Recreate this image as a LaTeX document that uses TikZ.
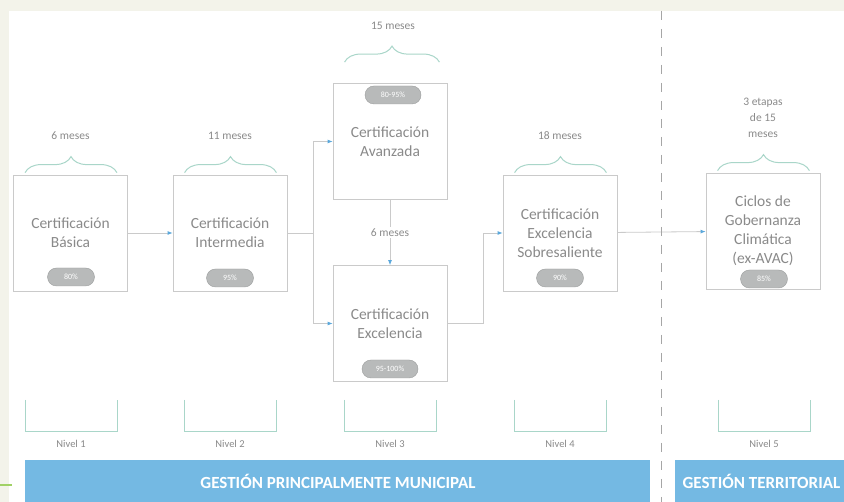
\documentclass[tikz,border=0pt]{standalone}
\usepackage{fontspec}
\setmainfont{Carlito}
\usetikzlibrary{positioning,arrows.meta,decorations.pathreplacing}
\definecolor{boxgray}{HTML}{CACACA}
\definecolor{txtgray}{HTML}{8A8A8A}
\definecolor{bracegreen}{HTML}{A9D6C9}
\definecolor{tipblue}{HTML}{5AA8DC}
\definecolor{barblue}{HTML}{74B9E3}
\definecolor{cream}{HTML}{F3F3EA}
\definecolor{pillgray}{HTML}{B8BABA}

\tikzset{
  certbox/.style={draw=boxgray, fill=white, line width=0.8pt, minimum width=114pt,
    minimum height=116pt, align=center, text=txtgray,
    font=\fontsize{15.5}{19}\selectfont},
  pill/.style={draw=pillgray!85!black, fill=pillgray, rounded corners=9pt,
    minimum height=18pt, inner sep=0pt, text=white, font=\fontsize{8}{9}\selectfont},
  tiempo/.style={text=txtgray, align=center, font=\fontsize{11.5}{16}\selectfont},
  nivel/.style={text=txtgray, font=\fontsize{10.5}{12}\selectfont},
  linea/.style={draw=boxgray, line width=0.8pt},
  flecha/.style={linea, -{Latex[length=5pt,width=4pt,color=tipblue]}},
  llave/.style={draw=bracegreen, line width=1pt, decorate,
    decoration={brace, amplitude=16pt}},
  corchete/.style={draw=bracegreen, line width=1pt},
  barra/.style={text=white, font=\bfseries\fontsize{17}{19}\selectfont},
}

\begin{document}
\begin{tikzpicture}[x=1pt,y=-1pt]
  \useasboundingbox (0,0) rectangle (844,502);
  % background
  \fill[cream] (0,0) rectangle (844,502);
  \fill[white] (9,11) rectangle (844,502);
  \draw[draw=green!45!yellow!70!black!60, line width=1.5pt] (0,485) -- (12,485);

  %%%% the certification boxes
  \node[certbox] (bas) at (70.5,233) {Certificación\\Básica};
  \node[certbox] (int) at (230,233) {Certificación\\Intermedia};
  \node[certbox] (ava) at (390,141.5) {Certificación\\Avanzada};
  \node[certbox] (exc) at (390,323.5) {Certificación\\Excelencia};
  \node[certbox] (sob) at (560,233) {Certificación\\Excelencia\\Sobresaliente};
  \node[certbox] (cic) at (763,231) {Ciclos de\\Gobernanza\\Climática\\(ex-AVAC)};

  %% the pills
  \node[pill, minimum width=47pt] (pbas) at (71,277) {80\%};
  \node[pill, minimum width=47pt] (pint) at (230,278) {95\%};
  \node[pill, minimum width=56pt] (pava) at (393,95) {80-95\%};
  \node[pill, minimum width=56pt] (pexc) at (390,369) {95-100\%};
  \node[pill, minimum width=47pt] (psob) at (560,278) {90\%};
  \node[pill, minimum width=47pt] (pcic) at (764,279) {85\%};

  %% braces and durations
  \foreach \b in {bas,int,sob,cic}
    \draw[llave] ([xshift=12pt,yshift=2pt]\b.north west) -- ([xshift=-11pt,yshift=2pt]\b.north east);
  \draw[llave] ([xshift=12pt,yshift=21pt]ava.north west) -- ([xshift=-8pt,yshift=21pt]ava.north east);
  \node[tiempo] (tbas) [above=31pt of bas.north] {6 meses};
  \node[tiempo] (tint) [above=31pt of int.north] {11 meses};
  \node[tiempo] (tava) [above=50pt of ava.north, xshift=3pt] {15 meses};
  \node[tiempo] (tsob) [above=31pt of sob.north] {18 meses};
  \node[tiempo] (tcic) [above=31pt of cic.north] {3 etapas\\de 15\\meses};

  %%%% connectors
  \coordinate (split) at (313,233);
  \coordinate (junta) at (483,233);
  \draw[flecha] (bas) -- (int);
  \draw[linea] (int.east) -- (split);
  \draw[flecha] (split) |- (ava.west);
  \draw[flecha] (split) |- (exc.west);
  \draw[flecha] (exc.east) -| (junta) -- (sob.west);
  \draw[flecha] (sob) -- (cic);
  \draw[flecha] (ava.south) -- (exc.north)
    node[midway, fill=white, tiempo, inner sep=2pt] (tmid) {6 meses};

  %% levels
  \foreach \cx/\n in {71/1,230/2,390/3,560/4,764/5}
  {
    \draw[corchete] (\cx-46,400) -- (\cx-46,432) -- (\cx+46,432) -- (\cx+46,400);
    \node[nivel] (niv\n) at (\cx,444) {Nivel \n};
  }

  %%%% bottom bars and divider
  \fill[barblue] (25,460) rectangle (650,502);
  \fill[barblue] (675,460) rectangle (844,502);
  \node[barra] (gpm) at (338,481) {GESTIÓN PRINCIPALMENTE MUNICIPAL};
  \node[barra, anchor=west] (gte) at (679,481) {GESTIÓN TERRITORIAL};
  \draw[draw=gray!70, line width=1pt, dash pattern=on 9pt off 9pt] (661,11) -- (661,502);
\end{tikzpicture}
\end{document}
